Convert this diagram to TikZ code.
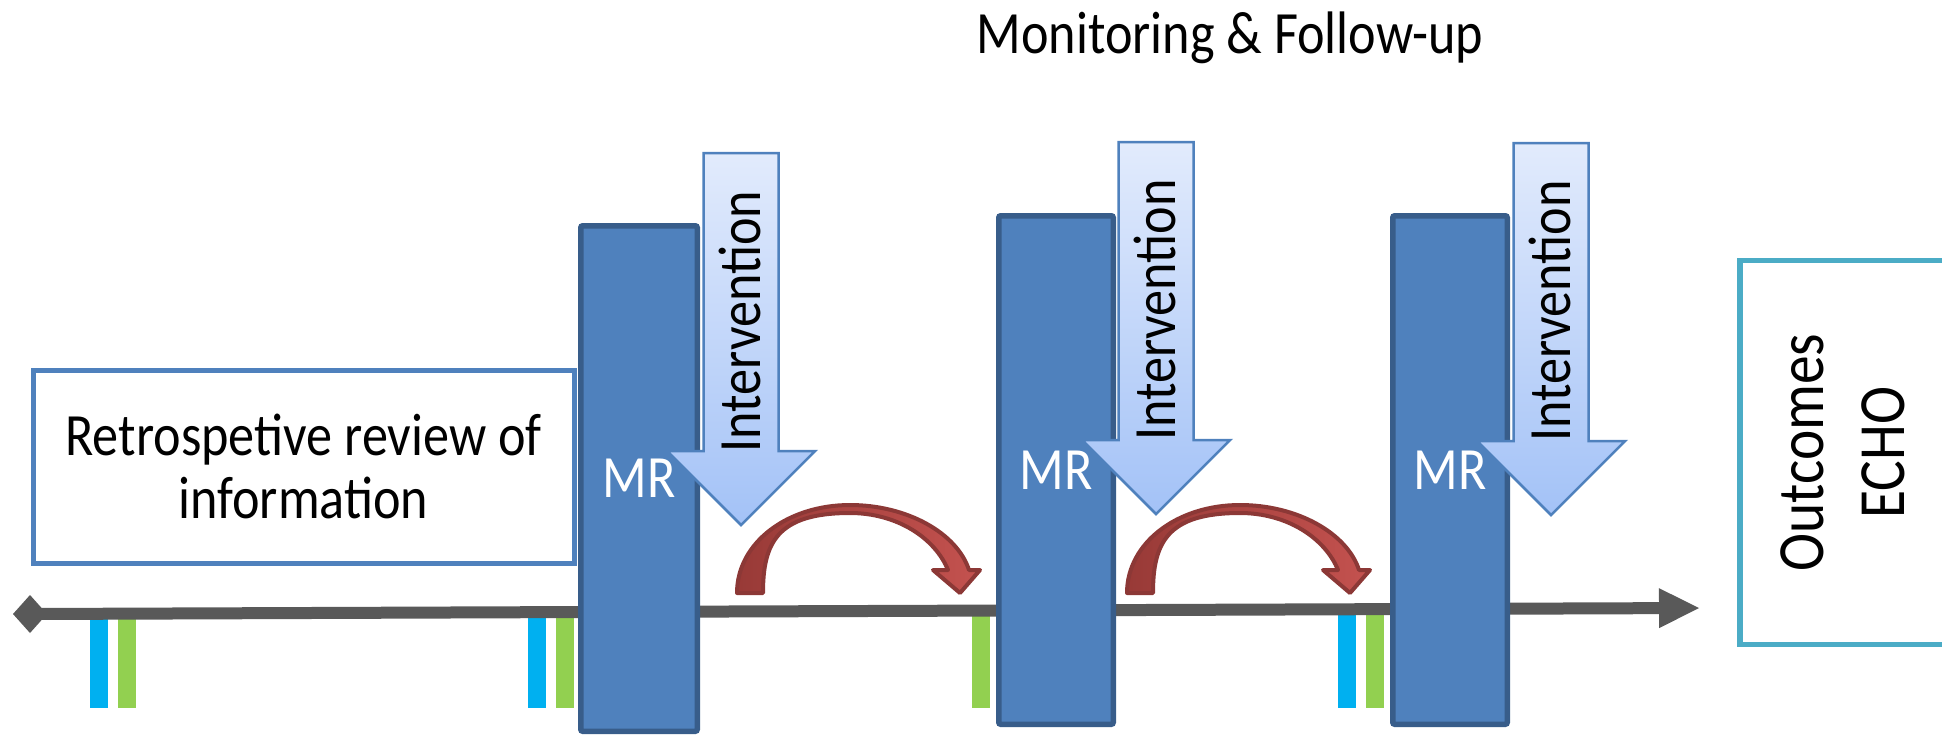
\documentclass[tikz,border=0pt]{standalone}
\usepackage{fontspec}
\setmainfont{Carlito}[FakeStretch=0.87]
\usetikzlibrary{arrows.meta}

\definecolor{mrfill}{HTML}{4F81BD}
\definecolor{mredge}{HTML}{385D8A}
\definecolor{retroedge}{HTML}{4F81BD}
\definecolor{outedge}{HTML}{4BACC6}
\definecolor{arrowtop}{HTML}{E2EBFC}
\definecolor{arrowbot}{HTML}{A3C2F7}
\definecolor{arrowedge}{HTML}{4F81BD}
\definecolor{axisgrey}{HTML}{595959}
\definecolor{markcyan}{HTML}{00B0F0}
\definecolor{markgreen}{HTML}{92D050}
\definecolor{loopdark}{HTML}{983A37}
\definecolor{looplight}{HTML}{C4524F}
\definecolor{loopedge}{HTML}{8C3836}

\begin{document}
\begin{tikzpicture}[x=1pt,y=-1pt,
  bigfont/.style={font=\fontsize{60}{63}\selectfont},
  mrbox/.style={draw=mredge, fill=mrfill, line width=5.5pt, rounded corners=2pt,
    inner sep=0pt, text=white, bigfont},
  retro/.style={draw=retroedge, line width=5pt, minimum width=541pt,
    minimum height=193pt, inner sep=0pt, align=center, bigfont},
  outbox/.style={draw=outedge, line width=5.5pt, rotate=90, minimum width=384pt,
    minimum height=206pt, inner sep=0pt, align=center,
    font=\fontsize{66}{81}\selectfont},
  vlabel/.style={rotate=90, inner sep=0pt, bigfont},
  axis/.style={draw=axisgrey, line width=12pt,
    arrows={-Triangle[length=40pt,width=40pt,line width=0pt]}},
  intarrow/.style={draw=arrowedge, line width=2.5pt, top color=arrowtop,
    bottom color=arrowbot, line join=miter},
  looparrow/.style={draw=loopedge, line width=4pt, line join=round,
    left color=loopdark, right color=looplight},
  pics/dropper/.style={code={
    \path[intarrow] (-37.5,0) -- (37.5,0) -- (37.5,298) -- (74,298) -- (0,372)
      -- (-74,298) -- (-37.5,298) -- cycle;}},
  pics/loop/.style={code={
    \path[looparrow] (0,0) .. controls (0,-50) and (50,-88) .. (113,-88)
      .. controls (170,-88) and (220,-60) .. (232,-23)
      -- (243,-23) -- (223,0) -- (196,-23) -- (211,-23)
      .. controls (198,-55) and (160,-80) .. (113,-80)
      .. controls (40,-80) and (26,-50) .. (26,0) -- cycle;}}
]
\useasboundingbox (0,0) rectangle (1942,737);

% date marks under the time axis
\foreach \x in {90,528,1338} \fill[markcyan] (\x,610) rectangle ++(18,98);
\foreach \x in {118,556,972,1366} \fill[markgreen] (\x,610) rectangle ++(18,98);

% time axis with a diamond at its start
\coordinate (tlstart) at (30,614);
\coordinate (tlend) at (1699,608);
\draw[axis] (tlstart) -- (tlend);
\fill[axisgrey] (tlstart) ++(-17,0) -- ++(17,-19) -- ++(17,19) -- ++(-17,19) -- cycle;

% retrospective phase
\node[retro] (retro) at (303.5,466.5) {Retrospetive review of\\information};

% MR visits
\node[mrbox, minimum width=116.5pt, minimum height=505.5pt] (mr1) at (639,478.5) {MR};
\node[mrbox, minimum width=114.5pt, minimum height=508.5pt] (mr2) at (1056,470) {MR};
\node[mrbox, minimum width=114.5pt, minimum height=508.5pt] (mr3) at (1450,470) {MR};

% interventions
\pic at (741,153) {dropper};
\node[vlabel] (int1) at (740,321.5) {Intervention};
\pic at (1156,142) {dropper};
\node[vlabel] (int2) at (1155,310) {Intervention};
\pic at (1551,143) {dropper};
\node[vlabel] (int3) at (1550,311) {Intervention};

% follow-up loops between visits
\pic at (737,593) {loop};
\pic at (1127,593) {loop};

% outcomes
\node[outbox] (outcomes) at (1843,452.5) {Outcomes\\ECHO};

% heading
\node[bigfont, anchor=base, inner sep=0pt] (title) at (1230,53) {Monitoring \& Follow-up};
\end{tikzpicture}
\end{document}
